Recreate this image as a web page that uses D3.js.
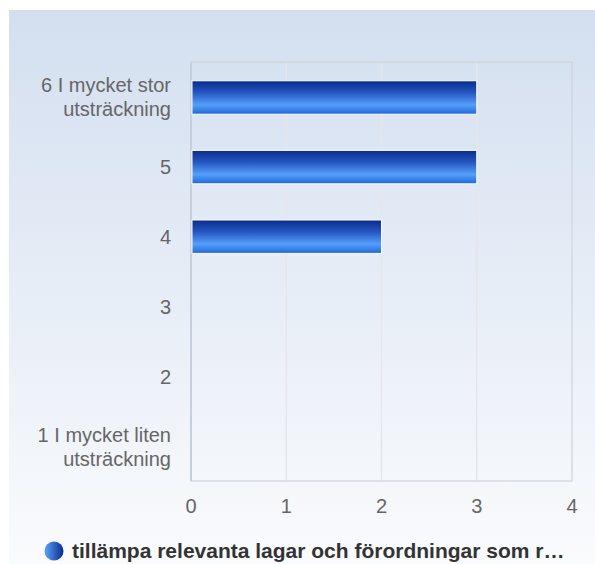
<!DOCTYPE html>
<html lang="sv">
<head>
<meta charset="utf-8">
<script src="https://cdn.jsdelivr.net/npm/d3@7"></script>
<style>
  body { margin: 0; background: #fff; }
  text { font-family: "Liberation Sans", Arial, sans-serif; }
</style>
</head>
<body>
<div id="chart"></div>
<script>
// data
var categories = [["6 I mycket stor", "utsträckning"], ["5"], ["4"], ["3"], ["2"], ["1 I mycket liten", "utsträckning"]];
var values = [3, 3, 2, 0, 0, 0];
var xTicks = [0, 1, 2, 3, 4];
var seriesName = "tillämpa relevanta lagar och förordningar som r…";

var W = 595, H = 564;
var plot = {left: 191, top: 62, right: 572, bottom: 481};

var svg = d3.select("#chart").append("svg")
  .attr("width", W).attr("height", H);

var defs = svg.append("defs");
var bg = defs.append("linearGradient").attr("id", "bg")
  .attr("x1", 0).attr("y1", 0).attr("x2", 0).attr("y2", 1);
bg.append("stop").attr("offset", "0%").attr("stop-color", "#d3dff0");
bg.append("stop").attr("offset", "100%").attr("stop-color", "#fafbfd");

var barG = defs.append("linearGradient").attr("id", "bar")
  .attr("x1", 0).attr("y1", 0).attr("x2", 0).attr("y2", 1);
barG.append("stop").attr("offset", "0%").attr("stop-color", "#0a2b8a");
barG.append("stop").attr("offset", "35%").attr("stop-color", "#2456c0");
barG.append("stop").attr("offset", "72%").attr("stop-color", "#559ffc");
barG.append("stop").attr("offset", "100%").attr("stop-color", "#2068d6");

var legG = defs.append("linearGradient").attr("id", "leg")
  .attr("x1", 0).attr("y1", 0).attr("x2", 1).attr("y2", 0);
legG.append("stop").attr("offset", "0%").attr("stop-color", "#5aa2fc");
legG.append("stop").attr("offset", "100%").attr("stop-color", "#0a2b8a");

// background panel
svg.append("rect").attr("x", 9).attr("y", 10)
  .attr("width", W - 9).attr("height", H - 10)
  .attr("fill", "url(#bg)");

var x = d3.scaleLinear().domain([0, 4]).range([plot.left, plot.right]);
var y = d3.scaleBand().domain(d3.range(categories.length))
  .range([plot.top, plot.bottom]).paddingInner(0.52).paddingOuter(0.27);
var yBand = d3.scaleBand().domain(d3.range(categories.length))
  .range([plot.top, plot.bottom]);

// grid
svg.append("g").selectAll("line").data(xTicks.slice(1, -1)).join("line")
  .attr("x1", d => x(d)).attr("x2", d => x(d))
  .attr("y1", plot.top).attr("y2", plot.bottom)
  .attr("stroke", "#e6e6ea").attr("stroke-width", 1.5);

svg.append("rect")
  .attr("x", plot.left).attr("y", plot.top)
  .attr("width", plot.right - plot.left).attr("height", plot.bottom - plot.top)
  .attr("fill", "none").attr("stroke", "#cfd3da").attr("stroke-width", 1.2);
svg.append("line")
  .attr("x1", plot.left).attr("x2", plot.left)
  .attr("y1", plot.top).attr("y2", plot.bottom)
  .attr("stroke", "#c8cfdc").attr("stroke-width", 2);

// bars
svg.append("g").selectAll("rect").data(values).join("rect")
  .filter(d => d > 0)
  .attr("x", x(0) + 1)
  .attr("y", (d, i) => y(i))
  .attr("width", d => x(d) - x(0) - 1)
  .attr("height", y.bandwidth())
  .attr("fill", "url(#bar)")
  .attr("stroke", "#ffffff").attr("stroke-width", 1);

// y labels
var yl = svg.append("g").selectAll("text").data(categories).join("text")
  .attr("x", 171)
  .attr("y", (d, i) => yBand(i) + yBand.bandwidth() / 2 - (d.length - 1) * 12 + 7.5)
  .attr("text-anchor", "end")
  .attr("font-size", 20).attr("fill", "#666");
yl.selectAll("tspan").data(d => d).join("tspan")
  .attr("x", 171)
  .attr("dy", (d, i) => i === 0 ? 0 : 24)
  .text(d => d);

// x labels
svg.append("g").selectAll("text").data(xTicks).join("text")
  .attr("x", d => x(d)).attr("y", 513)
  .attr("text-anchor", "middle")
  .attr("font-size", 20).attr("fill", "#666")
  .text(d => d);

// legend
svg.append("circle").attr("cx", 54).attr("cy", 551).attr("r", 9.5)
  .attr("fill", "url(#leg)");
svg.append("text").attr("x", 72).attr("y", 558)
  .attr("font-size", 21).attr("font-weight", "bold").attr("fill", "#333")
  .text(seriesName);
</script>
</body>
</html>
